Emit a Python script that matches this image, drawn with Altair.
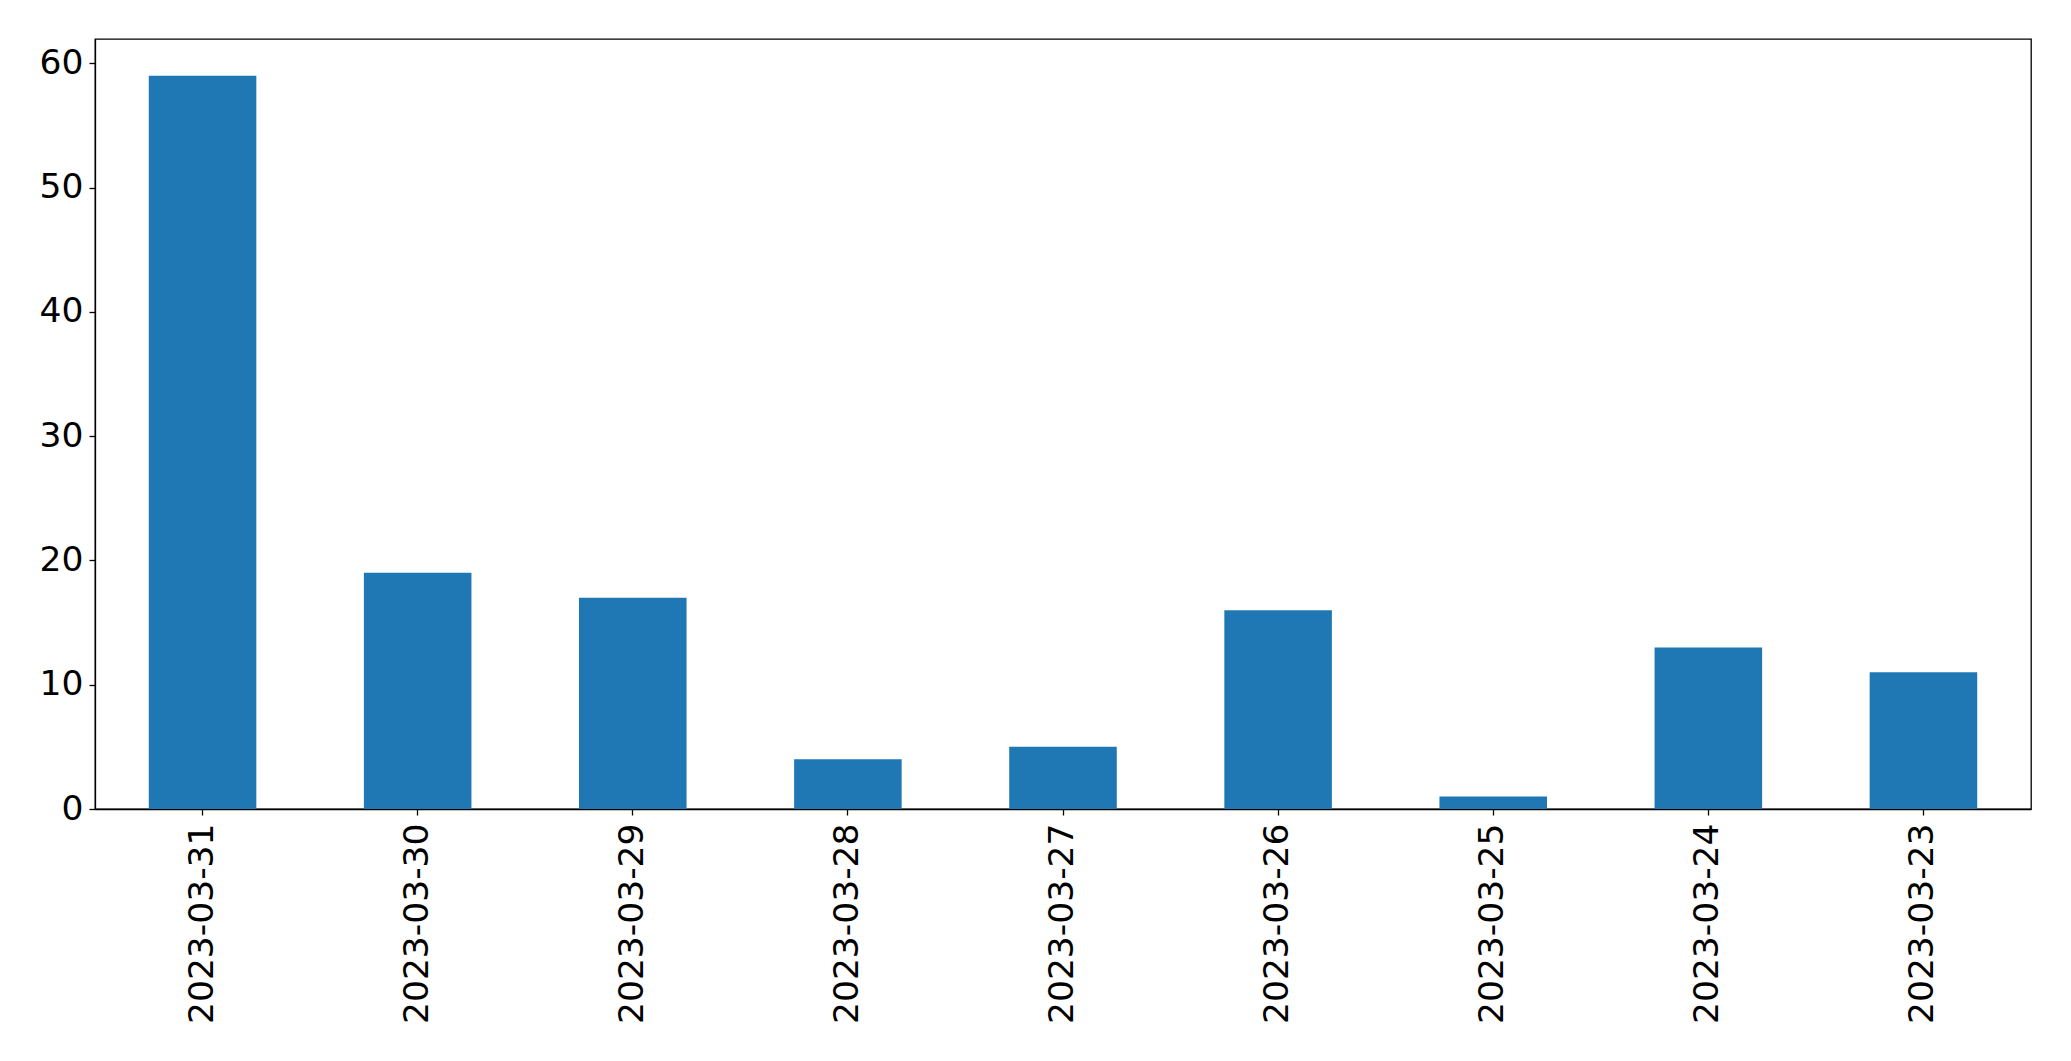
import altair as alt
import pandas as pd

dates = ["2023-03-31", "2023-03-30", "2023-03-29", "2023-03-28", "2023-03-27",
         "2023-03-26", "2023-03-25", "2023-03-24", "2023-03-23"]
counts = [59, 19, 17, 4, 5, 16, 1, 13, 11]

df = pd.DataFrame({"date": dates, "count": counts})

chart = alt.Chart(df).mark_bar(color="#1f77b4").encode(
    x=alt.X("date:N", sort=None, title=None,
            scale=alt.Scale(paddingInner=0.5, paddingOuter=0.25),
            axis=alt.Axis(labelAngle=270, labelFontSize=34.5, labelFont="DejaVu Sans",
                          labelColor="black", tickColor="black", tickSize=6,
                          tickWidth=1.3, domainColor="black", domainWidth=1.3,
                          labelPadding=8, labelLimit=0, grid=False)),
    y=alt.Y("count:Q", title=None,
            scale=alt.Scale(domain=[0, 61.95], nice=False, zero=True),
            axis=alt.Axis(values=[0, 10, 20, 30, 40, 50, 60], labelFontSize=34.5,
                          labelFont="DejaVu Sans", labelColor="black",
                          tickColor="black", tickSize=6, tickWidth=1.3,
                          domainColor="black", domainWidth=1.3,
                          labelPadding=6, grid=False)),
).properties(
    width=1936, height=770,
    autosize=alt.AutoSizeParams(type="none"),
    padding={"left": 87, "top": 31, "right": 20, "bottom": 240},
).configure(
    background="white",
    view=alt.ViewConfig(stroke="black", strokeWidth=1.3),
)

chart.save("out.html", embed_options={"renderer": "svg", "actions": False})
